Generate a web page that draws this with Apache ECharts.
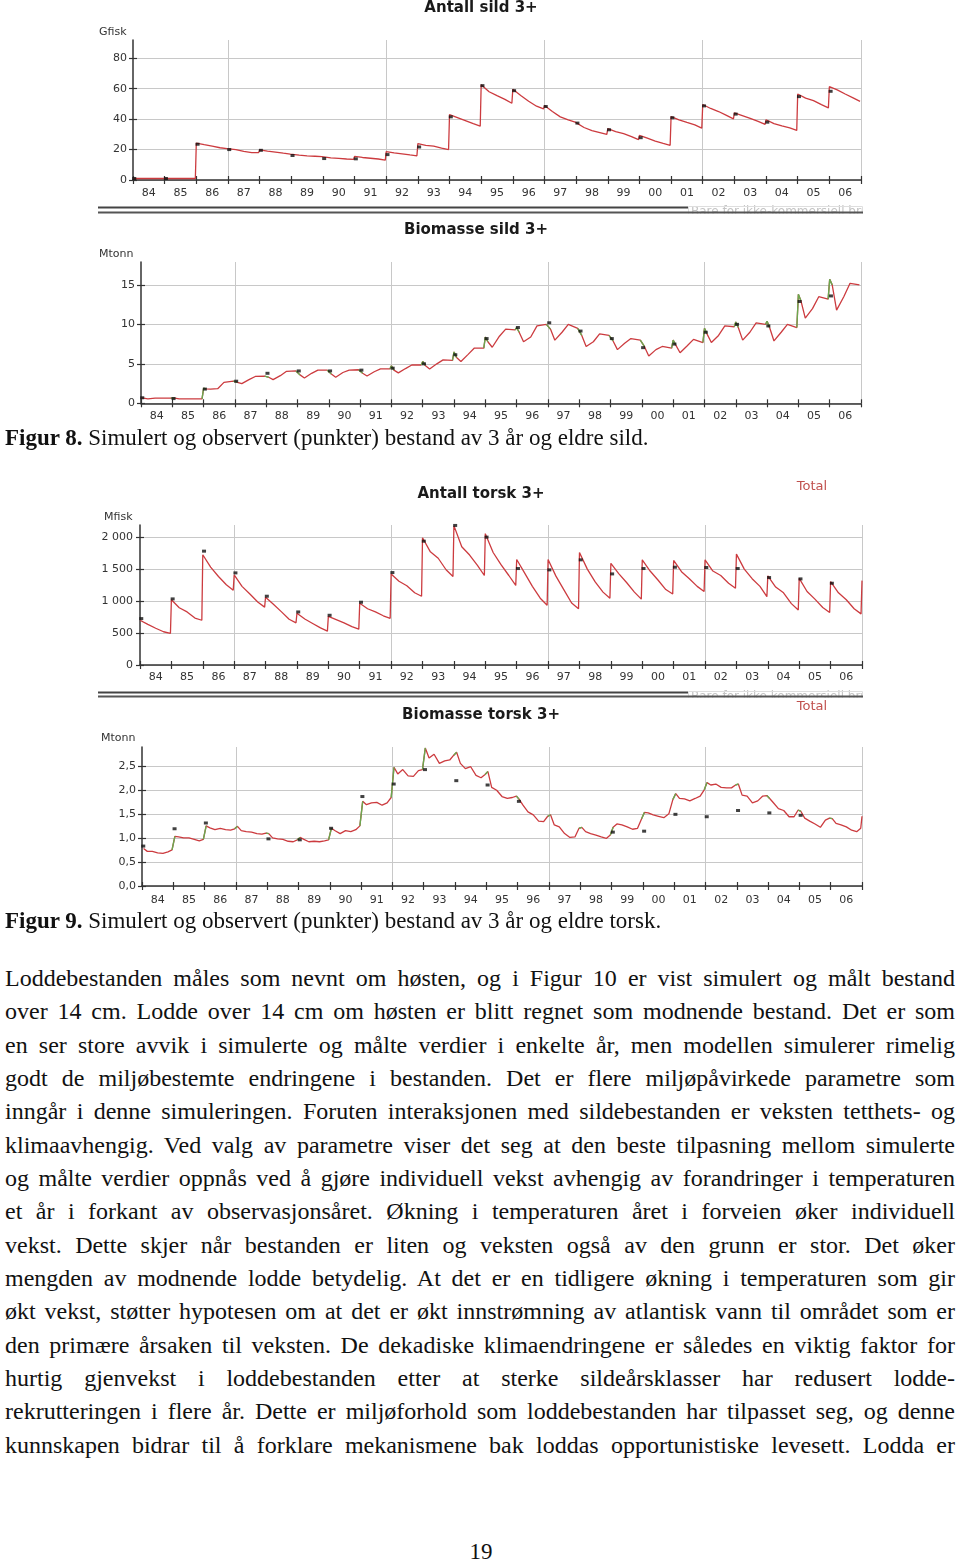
<!DOCTYPE html>
<html><head><meta charset="utf-8">
<script src="https://cdn.jsdelivr.net/npm/echarts@6/dist/echarts.min.js"></script>
<style>
html,body{margin:0;padding:0;background:#fff;}
#wrap{position:relative;width:960px;height:1564px;overflow:hidden;}
#chart{position:absolute;left:0;top:0;width:960px;height:950px;}
.cap{position:absolute;left:5px;font-family:"Liberation Serif",serif;font-size:23px;line-height:30px;white-space:nowrap;color:#111;}
#body{position:absolute;left:5px;width:950px;top:962px;font-family:"Liberation Serif",serif;font-size:24px;line-height:33.33px;color:#111;}
#body div{text-align:justify;text-align-last:justify;height:33.33px;}
#page{position:absolute;left:0;width:962px;top:1537px;text-align:center;font-family:"Liberation Serif",serif;font-size:23px;line-height:30px;color:#111;}
</style></head>
<body><div id="wrap">
<div id="chart"></div>
<div class="cap" style="top:423px"><b>Figur 8.</b> Simulert og observert (punkter) bestand av 3 år og eldre sild.</div>
<div class="cap" style="top:906px"><b>Figur 9.</b> Simulert og observert (punkter) bestand av 3 år og eldre torsk.</div>
<div id="body">
<div>Loddebestanden måles som nevnt om høsten, og i Figur 10 er vist simulert og målt bestand</div>
<div>over 14 cm. Lodde over 14 cm om høsten er blitt regnet som modnende bestand. Det er som</div>
<div>en ser store avvik i simulerte og målte verdier i enkelte år, men modellen simulerer rimelig</div>
<div>godt de miljøbestemte endringene i bestanden. Det er flere miljøpåvirkede parametre som</div>
<div>inngår i denne simuleringen. Foruten interaksjonen med sildebestanden er veksten tetthets- og</div>
<div>klimaavhengig. Ved valg av parametre viser det seg at den beste tilpasning mellom simulerte</div>
<div>og målte verdier oppnås ved å gjøre individuell vekst avhengig av forandringer i temperaturen</div>
<div>et år i forkant av observasjonsåret. Økning i temperaturen året i forveien øker individuell</div>
<div>vekst. Dette skjer når bestanden er liten og veksten også av den grunn er stor. Det øker</div>
<div>mengden av modnende lodde betydelig. At det er en tidligere økning i temperaturen som gir</div>
<div>økt vekst, støtter hypotesen om at det er økt innstrømning av atlantisk vann til området som er</div>
<div>den primære årsaken til veksten. De dekadiske klimaendringene er således en viktig faktor for</div>
<div>hurtig gjenvekst i loddebestanden etter at sterke sildeårsklasser har redusert lodde-</div>
<div>rekrutteringen i flere år. Dette er miljøforhold som loddebestanden har tilpasset seg, og denne</div>
<div>kunnskapen bidrar til å forklare mekanismene bak loddas opportunistiske levesett. Lodda er</div>
</div>
<div id="page">19</div>
</div>
<script>
// ---------- DATA ----------
const years = ['84','85','86','87','88','89','90','91','92','93','94','95','96','97','98','99','00','01','02','03','04','05','06'];
const firstYear = 1984;
const lastYear = 2007;
const gridYears = [1987, 1992, 1997, 2002, 2007];
const obsOffset = 0.04;

// Antall sild 3+ (Gfisk): rows per year, values at phases within the year
const sildAntallPhase = [0.0, 0.25, 0.5, 0.75, 0.97];
const sildAntallSim = [
  [1.0, 1.0, 1.0, 1.0, 1.0],
  [1.0, 1.0, 1.0, 1.0, 1.0],
  [24.3, 23.2, 22.2, 21.2, 20.6],
  [20.5, 20.0, 18.8, 18.0, 18.0],
  [19.8, 19.0, 18.3, 17.6, 17.0],
  [16.8, 16.3, 15.9, 15.6, 15.3],
  [15.0, 14.6, 14.2, 13.8, 13.5],
  [15.5, 14.8, 14.3, 13.8, 13.0],
  [18.7, 17.8, 17.2, 16.5, 15.9],
  [23.9, 22.8, 22.3, 21.0, 20.0],
  [43.0, 41.0, 39.0, 37.0, 35.4],
  [62.6, 58.0, 55.4, 53.0, 50.4],
  [59.6, 55.5, 51.8, 48.5, 46.7],
  [48.9, 45.0, 41.5, 39.5, 38.0],
  [38.0, 34.5, 32.5, 31.2, 30.0],
  [33.7, 31.8, 30.5, 28.5, 26.5],
  [29.3, 27.5, 25.5, 24.0, 22.8],
  [41.7, 39.5, 37.8, 36.2, 34.1],
  [49.6, 47.0, 45.0, 42.5, 40.2],
  [44.1, 42.3, 40.5, 38.5, 36.5],
  [39.6, 37.0, 35.5, 34.2, 32.6],
  [56.5, 53.8, 52.2, 49.5, 47.4],
  [61.3, 59.2, 56.5, 54.0, 51.7]
];
const sildAntallObs = [1.0, 1.0, 23.5, 20.0, 19.5, 16.1, 14.1, 13.9, 16.7, 21.7, 41.5, 62.0, 58.7, 48.3, 37.4, 33.0, 27.8, 40.9, 48.7, 43.3, 38.0, 54.8, 58.3];
const sildAntallTicks = [0, 20, 40, 60, 80];

// Biomasse sild 3+ (Mtonn)
const sildBioPhase = [0.0, 0.08, 0.22, 0.45, 0.65, 0.95];
const sildBioSim = [
  [0.70, 0.65, 0.55, 0.65, 0.65, 0.65],
  [0.65, 0.65, 0.55, 0.55, 0.55, 0.55],
  [1.90, 1.82, 1.80, 1.85, 2.65, 2.80],
  [2.85, 2.65, 2.50, 3.00, 3.40, 3.45],
  [3.70, 3.30, 3.00, 3.50, 4.05, 4.10],
  [4.10, 3.60, 3.20, 3.80, 4.20, 4.20],
  [4.25, 3.70, 3.30, 3.90, 4.20, 4.25],
  [4.30, 3.80, 3.45, 4.00, 4.35, 4.35],
  [4.75, 4.20, 3.85, 4.40, 4.85, 4.85],
  [5.30, 4.80, 4.35, 5.00, 5.50, 5.45],
  [6.50, 5.80, 5.30, 6.20, 7.00, 7.00],
  [8.40, 7.80, 7.10, 8.50, 9.40, 9.30],
  [9.60, 9.00, 7.80, 8.40, 9.80, 10.0],
  [10.0, 9.40, 8.00, 9.00, 10.0, 9.50],
  [9.30, 8.60, 7.20, 7.80, 8.80, 8.60],
  [8.50, 7.90, 6.80, 7.60, 8.20, 8.00],
  [7.90, 7.20, 6.00, 6.80, 7.20, 7.00],
  [8.00, 7.40, 6.40, 7.30, 8.10, 7.70],
  [9.50, 8.80, 7.70, 8.60, 9.80, 9.70],
  [10.3, 9.60, 8.00, 9.00, 10.2, 10.0],
  [10.4, 9.60, 7.90, 9.00, 10.0, 9.60],
  [13.8, 13.0, 10.8, 12.0, 13.5, 13.2],
  [15.7, 15.0, 11.8, 13.5, 15.2, 15.0]
];
const sildBioObs = [0.7, 0.6, 1.8, 2.8, 3.8, 4.1, 4.1, 4.2, 4.45, 5.0, 6.15, 8.2, 9.6, 10.2, 9.15, 8.2, 7.05, 7.5, 9.0, 10.0, 9.8, 12.9, 13.6];
const sildBioTicks = [0, 5, 10, 15];

// Antall torsk 3+ (Mfisk)
const torskAntallPhase = [0.0, 0.25, 0.5, 0.75, 0.97];
const torskAntallSim = [
  [700, 635, 575, 520, 495],
  [1020, 895, 830, 735, 700],
  [1725, 1530, 1385, 1255, 1170],
  [1410, 1230, 1110, 985, 905],
  [1060, 950, 835, 715, 660],
  [810, 720, 650, 580, 530],
  [760, 710, 660, 600, 560],
  [965, 880, 830, 770, 730],
  [1425, 1310, 1240, 1130, 1075],
  [1990, 1770, 1670, 1490, 1385],
  [2180, 1850, 1720, 1560, 1400],
  [2055, 1760, 1570, 1400, 1245],
  [1650, 1440, 1230, 1045, 935],
  [1650, 1390, 1180, 970, 880],
  [1760, 1500, 1300, 1140, 1045],
  [1590, 1430, 1290, 1140, 1030],
  [1645, 1470, 1330, 1180, 1110],
  [1635, 1460, 1350, 1230, 1150],
  [1645, 1470, 1400, 1280, 1200],
  [1735, 1500, 1350, 1230, 1070],
  [1395, 1220, 1130, 960, 862],
  [1355, 1150, 1030, 900, 820],
  [1305, 1130, 1020, 880, 800]
];
const torskAntallEnd = 1320;
const torskAntallObs = [726, 1034, 1781, 1441, 1076, 830, 778, 982, 1446, 1937, 2183, 2000, 1509, 1488, 1645, 1425, 1509, 1530, 1525, 1509, 1368, 1347, 1279];
const torskAntallTicks = [0, 500, 1000, 1500, 2000];

// Biomasse torsk 3+ (Mtonn)
const torskBioPhase = [0.05, 0.17, 0.33, 0.5, 0.67, 0.83, 0.96];
const torskBioSim = [
  [0.78, 0.72, 0.72, 0.69, 0.68, 0.71, 0.75],
  [1.03, 1.02, 1.00, 1.00, 0.97, 0.94, 0.97],
  [1.25, 1.21, 1.17, 1.20, 1.17, 1.16, 1.19],
  [1.24, 1.15, 1.13, 1.12, 1.09, 1.08, 1.10],
  [1.09, 1.00, 0.98, 0.97, 0.93, 0.92, 0.96],
  [1.01, 0.97, 0.92, 0.93, 0.92, 0.94, 0.96],
  [1.20, 1.15, 1.09, 1.15, 1.13, 1.17, 1.25],
  [1.76, 1.69, 1.73, 1.74, 1.68, 1.73, 1.84],
  [2.47, 2.33, 2.42, 2.29, 2.28, 2.40, 2.42],
  [2.87, 2.66, 2.74, 2.55, 2.60, 2.62, 2.72],
  [2.78, 2.55, 2.44, 2.48, 2.30, 2.25, 2.32],
  [2.38, 2.05, 1.99, 1.86, 1.82, 1.84, 1.87],
  [1.80, 1.68, 1.54, 1.48, 1.35, 1.34, 1.45],
  [1.48, 1.27, 1.23, 1.09, 1.01, 1.02, 1.20],
  [1.22, 1.13, 1.09, 1.06, 1.02, 0.99, 1.06],
  [1.22, 1.29, 1.27, 1.23, 1.18, 1.20, 1.40],
  [1.53, 1.52, 1.48, 1.45, 1.42, 1.50, 1.80],
  [1.92, 1.82, 1.81, 1.77, 1.82, 1.87, 2.00],
  [2.15, 2.10, 2.12, 2.05, 2.04, 2.04, 2.10],
  [2.12, 1.89, 1.87, 1.73, 1.77, 1.87, 1.88],
  [1.82, 1.73, 1.61, 1.57, 1.44, 1.44, 1.58],
  [1.55, 1.41, 1.35, 1.29, 1.22, 1.37, 1.41],
  [1.40, 1.30, 1.27, 1.23, 1.16, 1.13, 1.20]
];
const torskBioEnd = 1.45;
const torskBioObs = [0.83, 1.19, 1.31, null, 0.98, 0.96, 1.2, 1.86, 2.12, 2.42, 2.19, 2.1, 1.76, null, null, 1.12, 1.14, 1.49, 1.44, 1.57, 1.52, 1.47, null];
const torskBioTicks = [0, 0.5, 1.0, 1.5, 2.0, 2.5];

// ---------- BUILD ----------
function simPoints(rows, phase, endVal) {
  const pts = [];
  rows.forEach((row, i) => row.forEach((v, k) => pts.push([firstYear + i + phase[k], v])));
  if (endVal != null) pts.push([lastYear, endVal]);
  return pts;
}
function obsPoints(vals) {
  const pts = [];
  vals.forEach((v, i) => { if (v != null) pts.push([firstYear + i + obsOffset, v]); });
  return pts;
}
// green highlight on the rise/peak at each year start, taken from the simulated rows
function greenPoints(rows, phase, n) {
  const pts = [];
  const last = phase.length - 1;
  for (let i = 1; i < rows.length; i++) {
    pts.push([firstYear + i - 1 + phase[last], rows[i - 1][last]]);
    for (let k = 0; k < n; k++) pts.push([firstYear + i + phase[k], rows[i][k]]);
    pts.push([firstYear + i + phase[n - 1] + 0.001, '-']);
  }
  return pts;
}

const RED = '#cc3b3f';
const GREEN = '#6aa84f';
const AX = '#333';
const FONT = 'DejaVu Sans';

const panels = [
  { grid: { left: 133, top: 40, width: 728, height: 140 }, max: 92, ticks: sildAntallTicks,
    fmt: v => String(v), sim: simPoints(sildAntallSim, sildAntallPhase), obs: obsPoints(sildAntallObs), green: null, xm: 8, ym: 6 },
  { grid: { left: 141, top: 262, width: 720, height: 141.3 }, max: 17.9, ticks: sildBioTicks,
    fmt: v => String(v), sim: simPoints(sildBioSim, sildBioPhase), obs: obsPoints(sildBioObs), green: greenPoints(sildBioSim, sildBioPhase, 2), xm: 7, ym: 6 },
  { grid: { left: 140, top: 525, width: 722, height: 140 }, max: 2190, ticks: torskAntallTicks,
    fmt: v => v >= 1000 ? Math.floor(v / 1000) + ' ' + String(v % 1000).padStart(3, '0') : String(v),
    sim: simPoints(torskAntallSim, torskAntallPhase, torskAntallEnd), obs: obsPoints(torskAntallObs), green: null, xm: 6.5, ym: 7 },
  { grid: { left: 142, top: 747, width: 720, height: 139 }, max: 2.89, ticks: torskBioTicks,
    fmt: v => v.toFixed(1).replace('.', ','), sim: simPoints(torskBioSim, torskBioPhase, torskBioEnd), obs: obsPoints(torskBioObs), green: greenPoints(torskBioSim, torskBioPhase, 1), xm: 8.5, ym: 6 }
];

const grid = [], xAxis = [], yAxis = [], series = [];
panels.forEach((p, gi) => {
  grid.push(Object.assign({ containLabel: false, outerBoundsMode: 'none' }, p.grid));
  xAxis.push({ type: 'value', gridIndex: gi, position: 'bottom', min: firstYear, max: lastYear, interval: 1,
    axisLine: { show: true, lineStyle: { color: AX, width: 1.5 } },
    axisTick: { show: true, length: 4, lineStyle: { color: AX, width: 1.2 } },
    axisLabel: { show: false }, splitLine: { show: false } });
  xAxis.push({ type: 'category', gridIndex: gi, position: 'bottom', data: years, boundaryGap: true,
    axisLine: { show: false },
    axisTick: { show: true, inside: true, length: 4, interval: 0, lineStyle: { color: AX, width: 1.2 } },
    axisLabel: { show: true, interval: 0, margin: p.xm, color: AX, fontSize: 11, fontFamily: FONT },
    splitLine: { show: false } });
  xAxis.push({ type: 'value', gridIndex: gi, position: 'bottom', min: firstYear, max: lastYear,
    axisLine: { show: false }, axisTick: { show: false, customValues: gridYears }, axisLabel: { show: false },
    splitLine: { show: true, lineStyle: { color: '#c8c8c8', width: 1 } } });
  yAxis.push({ type: 'value', gridIndex: gi, position: 'left', min: 0, max: p.max,
    axisLine: { show: true, lineStyle: { color: AX, width: 1.5 } },
    axisTick: { show: true, length: 4, customValues: p.ticks, lineStyle: { color: AX, width: 1.2 } },
    axisLabel: { show: true, customValues: p.ticks, formatter: p.fmt, margin: p.ym, color: AX, fontSize: 11, fontFamily: FONT },
    splitLine: { show: true, lineStyle: { color: '#c8c8c8', width: 1 } } });
  yAxis.push({ type: 'value', gridIndex: gi, position: 'left', min: 0, max: p.max,
    axisLine: { show: false },
    axisTick: { show: true, inside: true, length: 4, customValues: p.ticks, lineStyle: { color: AX, width: 1.2 } },
    axisLabel: { show: false }, splitLine: { show: false } });
  const xi = gi * 3, yi = gi * 2;
  series.push({ type: 'line', xAxisIndex: xi, yAxisIndex: yi, data: p.sim, showSymbol: false, symbol: 'none',
    lineStyle: { color: RED, width: 1.3 }, z: 3, silent: true, animation: false });
  if (p.green) series.push({ type: 'line', xAxisIndex: xi, yAxisIndex: yi, data: p.green, showSymbol: false, symbol: 'none',
    connectNulls: false, lineStyle: { color: GREEN, width: 1.4 }, z: 4, silent: true, animation: false });
  series.push({ type: 'scatter', xAxisIndex: xi, yAxisIndex: yi, data: p.obs, symbol: 'rect', symbolSize: [4, 3],
    itemStyle: { color: '#111' }, z: 5, silent: true, animation: false });
});

function txt(x, y, s, font, fill, align) {
  return { type: 'text', x: x, y: y, z: 10, silent: true,
    style: { text: s, font: font, fill: fill, textAlign: align || 'center', textVerticalAlign: 'middle' } };
}
function hline(x1, x2, y, w, c) {
  return { type: 'line', z: 10, silent: true, shape: { x1: x1, y1: y, x2: x2, y2: y }, style: { stroke: c || '#444', lineWidth: w || 2 } };
}
const TITLE = 'bold 15px "DejaVu Sans"';
const SMALL = '11px "DejaVu Sans"';
const graphic = [
  txt(481, 8, 'Antall sild 3+', TITLE, '#1a1a1a'),
  txt(99, 32, 'Gfisk', SMALL, AX, 'left'),
  txt(476, 230, 'Biomasse sild 3+', TITLE, '#1a1a1a'),
  txt(99, 254, 'Mtonn', SMALL, AX, 'left'),
  txt(481, 494, 'Antall torsk 3+', TITLE, '#1a1a1a'),
  txt(812, 487, 'Total', '13px "DejaVu Sans"', '#c0504d'),
  txt(104, 517, 'Mfisk', SMALL, AX, 'left'),
  txt(481, 715, 'Biomasse torsk 3+', TITLE, '#1a1a1a'),
  txt(812, 707, 'Total', '13px "DejaVu Sans"', '#c0504d'),
  txt(101, 738, 'Mtonn', SMALL, AX, 'left'),
  // watermark boxes (partly hidden)
  { type: 'text', x: 691, y: 206, z: 9, silent: true, style: { text: 'Bare for ikke-kommersiell bruk', font: '12px "DejaVu Sans"', fill: '#c4c4c4', textAlign: 'left', textVerticalAlign: 'top' } },
  { type: 'rect', z: 9, silent: true, shape: { x: 688.5, y: 206.5, width: 174, height: 12 }, style: { fill: 'none', stroke: '#dedede', lineWidth: 1 } },
  { type: 'rect', z: 9, silent: true, shape: { x: 686, y: 213.5, width: 180, height: 8 }, style: { fill: '#fff' } },
  { type: 'rect', z: 9, silent: true, shape: { x: 863, y: 200, width: 40, height: 22 }, style: { fill: '#fff' } },
  { type: 'text', x: 691, y: 691, z: 9, silent: true, style: { text: 'Bare for ikke kommersiell bruk', font: '12px "DejaVu Sans"', fill: '#c4c4c4', textAlign: 'left', textVerticalAlign: 'top' } },
  { type: 'rect', z: 9, silent: true, shape: { x: 688.5, y: 691.5, width: 174, height: 12 }, style: { fill: 'none', stroke: '#dedede', lineWidth: 1 } },
  { type: 'rect', z: 9, silent: true, shape: { x: 686, y: 697.5, width: 180, height: 8 }, style: { fill: '#fff' } },
  { type: 'rect', z: 9, silent: true, shape: { x: 863, y: 686, width: 40, height: 19 }, style: { fill: '#fff' } },
  // double separator lines
  hline(98, 688, 207.5, 2, '#444'),
  hline(98, 863, 212.5, 2, '#555'),
  hline(98, 688, 692.5, 2, '#444'),
  hline(98, 863, 696.5, 2, '#555')
];

const chart = echarts.init(document.getElementById('chart'), null, { renderer: 'canvas' });
chart.setOption({
  animation: false,
  backgroundColor: 'transparent',
  textStyle: { fontFamily: FONT },
  grid: grid, xAxis: xAxis, yAxis: yAxis, series: series, graphic: graphic
});
</script>
</body></html>
